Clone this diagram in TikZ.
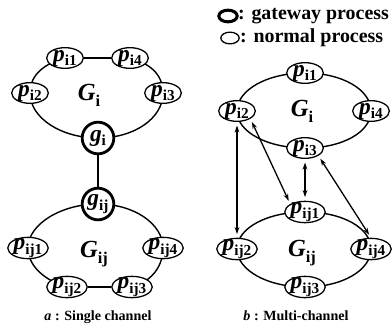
\documentclass[tikz,border=0pt]{standalone}
\usepackage{fontspec}
\setmainfont{Liberation Serif}
\usetikzlibrary{arrows.meta, shapes.geometric, backgrounds}
\newcommand{\nm}[2]{\textbf{\textit{#1}}\raisebox{-0.4ex}{\fontsize{13}{13}\selectfont\bfseries #2}}
\newcommand{\grp}[1]{\textbf{\textit{G}}\raisebox{-0.55ex}{\fontsize{14}{14}\selectfont\bfseries #1}}

\begin{document}
\begin{tikzpicture}[>={Stealth[length=6pt,width=4pt]}, x=0.03cm, y=-0.03cm,
  proc/.style={ellipse, draw, line width=1.1pt, fill=white,
               minimum width=1.1cm, minimum height=0.62cm, inner xsep=0pt, inner ysep=-1.5pt,
               font=\fontsize{20}{20}\selectfont},
  gate/.style={circle, draw, line width=2.4pt, fill=white,
               minimum size=0.95cm, inner sep=0pt, font=\fontsize{20}{20}\selectfont},
  ring/.style={line width=1.2pt},
  link/.style={<->, line width=1.1pt, shorten <=3pt, shorten >=3pt},
  grplbl/.style={font=\fontsize{21}{21}\selectfont},
  caption/.style={font=\fontsize{12}{14}\selectfont\bfseries},
  keylbl/.style={anchor=west, inner sep=0pt, font=\fontsize{17}{19}\selectfont\bfseries},
  key/.style={ellipse, draw, minimum width=0.55cm, minimum height=0.35cm, inner sep=0pt}]

\useasboundingbox (0,0) rectangle (392,327);

% single channel
\node[proc] (Li1) at (65,58) {\nm{p}{i1}}; \node[proc] (Li4) at (130,58) {\nm{p}{i4}};
\node[proc] (Li2) at (30,93) {\nm{p}{i2}}; \node[proc] (Li3) at (163,93) {\nm{p}{i3}};
\node[gate] (Lg) at (98,138) {\nm{g}{i}};
\node[grplbl] (LG) at (89,95) {\grp{i}};

\node[gate] (Lgij) at (98,204) {\nm{g}{ij}};
\node[proc] (Lij1) at (28,248) {\nm{p}{ij1}}; \node[proc] (Lij4) at (163,248) {\nm{p}{ij4}};
\node[proc] (Lij2) at (67,287) {\nm{p}{ij2}}; \node[proc] (Lij3) at (132,287) {\nm{p}{ij3}};
\node[grplbl] (LGij) at (94,254) {\grp{ij}};

\draw[ring] (Li1) -- (Li4); \draw[ring] (Lij3) -- (Lij2);
\draw[ring] (Lg) -- (Lgij);
\begin{pgfonlayer}{background}
\draw[ring] (Li4.center) to[out=-15, in=90, out distance=0.58cm, in distance=0.58cm] (Li3.center);
\draw[ring] (Li3.center) to[out=-90, in=0, out distance=0.75cm, in distance=1.1cm] (Lg.center);
\draw[ring] (Lg.center) to[out=180, in=-90, out distance=1.1cm, in distance=0.75cm] (Li2.center);
\draw[ring] (Li2.center) to[out=90, in=195, out distance=0.58cm, in distance=0.58cm] (Li1.center);
\draw[ring] (Lgij.center) to[out=0, in=90, out distance=1.07cm, in distance=0.73cm] (Lij4.center);
\draw[ring] (Lij4.center) to[out=-90, in=15, out distance=0.64cm, in distance=0.5cm] (Lij3.center);
\draw[ring] (Lij2.center) to[out=165, in=-90, out distance=0.5cm, in distance=0.64cm] (Lij1.center);
\draw[ring] (Lij1.center) to[out=90, in=180, out distance=0.73cm, in distance=1.07cm] (Lgij.center);
\end{pgfonlayer}
\node[caption] (Lcap) at (98,317) {\textit{a} : Single channel};

% multi-channel
\node[key, line width=2.6pt] (Kg) at (228,16) {}; \node[keylbl] (Kgt) at (238,16) {: gateway process};
\node[key, line width=1.1pt] (Kn) at (230,38) {}; \node[keylbl] (Knt) at (240,38) {: normal process};

\node[proc] (Ri1) at (305,73) {\nm{p}{i1}}; \node[proc] (Ri3) at (305,148) {\nm{p}{i3}};
\node[proc] (Ri2) at (237,111) {\nm{p}{i2}}; \node[proc] (Ri4) at (371,111) {\nm{p}{i4}};
\node[grplbl] (RG) at (302,111) {\grp{i}};

\node[proc] (Rij1) at (305,212) {\nm{p}{ij1}}; \node[proc] (Rij3) at (305,287) {\nm{p}{ij3}};
\node[proc] (Rij2) at (237,249) {\nm{p}{ij2}}; \node[proc] (Rij4) at (371,249) {\nm{p}{ij4}};
\node[grplbl] (RGij) at (302,253) {\grp{ij}};

\begin{pgfonlayer}{background}
\draw[ring] (Ri1.center) to[out=0, in=90, out distance=1.13cm, in distance=0.63cm] (Ri4.center);
\draw[ring] (Ri4.center) to[out=-90, in=0, out distance=0.63cm, in distance=1.13cm] (Ri3.center);
\draw[ring] (Ri3.center) to[out=180, in=-90, out distance=1.13cm, in distance=0.63cm] (Ri2.center);
\draw[ring] (Ri2.center) to[out=90, in=180, out distance=0.63cm, in distance=1.13cm] (Ri1.center);
\draw[ring] (Rij1.center) to[out=0, in=90, out distance=1.13cm, in distance=0.63cm] (Rij4.center);
\draw[ring] (Rij4.center) to[out=-90, in=0, out distance=0.63cm, in distance=1.13cm] (Rij3.center);
\draw[ring] (Rij3.center) to[out=180, in=-90, out distance=1.13cm, in distance=0.63cm] (Rij2.center);
\draw[ring] (Rij2.center) to[out=90, in=180, out distance=0.63cm, in distance=1.13cm] (Rij1.center);
\end{pgfonlayer}

\draw[link] (Ri2) -- (Rij2);
\draw[link] (Ri2.south east) -- (Rij1.north west);
\draw[link] (Ri3) -- (Rij1);
\draw[link] (Ri3.south east) -- (Rij4.north);
\node[caption] (Rcap) at (296,316) {\textit{b} : Multi-channel};

\end{tikzpicture}
\end{document}
